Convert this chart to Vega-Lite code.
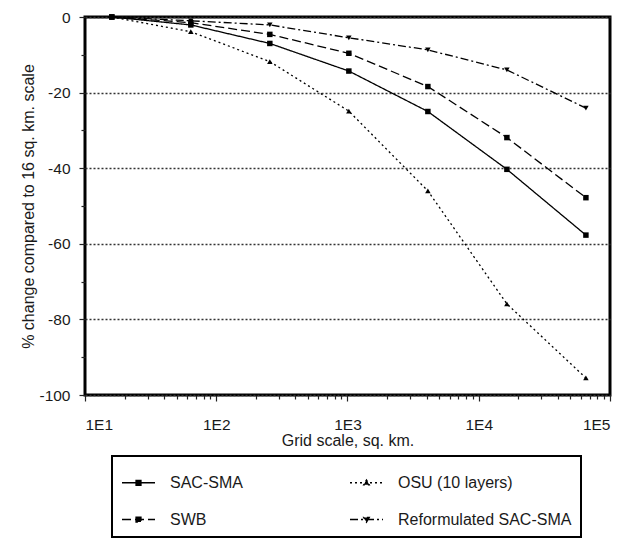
{
  "$schema": "https://vega.github.io/schema/vega-lite/v6.json",
  "width": 525,
  "height": 378,
  "autosize": {"type": "none"},
  "padding": {"left": 85, "top": 17, "right": 23, "bottom": 158},
  "background": "white",
  "config": {
    "view": {"stroke": "black", "strokeWidth": 3},
    "font": "Liberation Sans",
    "axis": {
      "domain": false,
      "grid": false,
      "labelFont": "Liberation Sans",
      "titleFont": "Liberation Sans",
      "labelFontSize": 15.5,
      "titleFontSize": 16,
      "titleFontWeight": "normal",
      "labelColor": "#1a1a1a",
      "titleColor": "#1a1a1a",
      "tickColor": "#222222",
      "tickWidth": 1.2
    },
    "legend": {"strokeWidth": 2}
  },
  "data": {
    "values": [
      {"model": "SAC-SMA", "area": 16, "change": 0},
      {"model": "SAC-SMA", "area": 64, "change": -2.1},
      {"model": "SAC-SMA", "area": 256, "change": -7},
      {"model": "SAC-SMA", "area": 1024, "change": -14.3},
      {"model": "SAC-SMA", "area": 4096, "change": -25},
      {"model": "SAC-SMA", "area": 16384, "change": -40.3},
      {"model": "SAC-SMA", "area": 65536, "change": -57.7},
      {"model": "SWB", "area": 16, "change": 0},
      {"model": "SWB", "area": 64, "change": -1.5},
      {"model": "SWB", "area": 256, "change": -4.6},
      {"model": "SWB", "area": 1024, "change": -9.6},
      {"model": "SWB", "area": 4096, "change": -18.4},
      {"model": "SWB", "area": 16384, "change": -31.9},
      {"model": "SWB", "area": 65536, "change": -47.8},
      {"model": "OSU (10 layers)", "area": 16, "change": 0},
      {"model": "OSU (10 layers)", "area": 64, "change": -3.9},
      {"model": "OSU (10 layers)", "area": 256, "change": -11.8},
      {"model": "OSU (10 layers)", "area": 1024, "change": -24.9},
      {"model": "OSU (10 layers)", "area": 4096, "change": -46},
      {"model": "OSU (10 layers)", "area": 16384, "change": -75.9},
      {"model": "OSU (10 layers)", "area": 65536, "change": -95.5},
      {"model": "Reformulated SAC-SMA", "area": 16, "change": 0},
      {"model": "Reformulated SAC-SMA", "area": 64, "change": -1},
      {"model": "Reformulated SAC-SMA", "area": 256, "change": -2.1},
      {"model": "Reformulated SAC-SMA", "area": 1024, "change": -5.5},
      {"model": "Reformulated SAC-SMA", "area": 4096, "change": -8.7},
      {"model": "Reformulated SAC-SMA", "area": 16384, "change": -14},
      {"model": "Reformulated SAC-SMA", "area": 65536, "change": -24.1}
    ]
  },
  "resolve": {"axis": {"x": "independent", "y": "independent"}},
  "layer": [
    {
      "mark": {"type": "line", "color": "black", "strokeWidth": 1.3},
      "encoding": {
        "x": {
          "field": "area",
          "type": "quantitative",
          "scale": {"type": "log", "domain": [10, 100000]},
          "axis": {
            "orient": "bottom",
            "values": [10, 100, 1000, 10000, 100000],
            "labelExpr": "'1E' + round(log(datum.value)/LN10)",
            "title": "Grid scale, sq. km.",
            "tickSize": 6,
            "labelPadding": 16,
            "titlePadding": 0
          }
        },
        "y": {
          "field": "change",
          "type": "quantitative",
          "scale": {"domain": [-100, 0]},
          "axis": {
            "orient": "left",
            "values": [0, -20, -40, -60, -80, -100],
            "labelExpr": "'' + datum.value",
            "title": "% change compared to 16 sq. km. scale",
            "grid": true,
            "gridDash": [2, 2],
            "gridColor": "#333333",
            "gridWidth": 1.5,
            "tickSize": 6,
            "labelPadding": 9,
            "titlePadding": 2
          }
        },
        "strokeDash": {
          "field": "model",
          "type": "nominal",
          "scale": {
            "domain": ["SAC-SMA", "SWB", "OSU (10 layers)", "Reformulated SAC-SMA"],
            "range": [[1, 0], [9, 4], [2, 3], [8, 3, 2, 3]]
          },
          "legend": {
            "title": null,
            "orient": "none",
            "legendX": 27,
            "legendY": 439,
            "columns": 2,
            "columnPadding": 104,
            "rowPadding": 11,
            "padding": 9,
            "symbolSize": 1089,
            "symbolStrokeWidth": 1.3,
            "symbolStrokeColor": "black",
            "labelFont": "Liberation Sans",
            "labelFontSize": 16,
            "labelOffset": 14,
            "labelColor": "#1a1a1a",
            "labelLimit": 300,
            "strokeColor": "black",
            "encode": {
              "symbols": {
                "update": {
                  "shape": {"signal": "(datum.value === 'SAC-SMA' || datum.value === 'SWB') ? 'M-1,0H1M-0.15,-0.15H0.15V0.15H-0.15Z' : (datum.value === 'OSU (10 layers)' ? 'M-1,0H1M0,-0.17L0.17,0.12H-0.17Z' : 'M-1,0H1M0,0.17L0.17,-0.12H-0.17Z')"},
                  "fill": {"value": "black"},
                  "stroke": {"value": "black"}
                }
              }
            }
          }
        }
      }
    },
    {
      "mark": {"type": "point", "filled": true, "color": "black", "size": 30, "opacity": 1},
      "encoding": {
        "x": {
          "field": "area",
          "type": "quantitative",
          "scale": {"type": "log", "domain": [10, 100000]},
          "axis": {
            "orient": "bottom",
            "values": [20, 30, 40, 50, 60, 70, 80, 90, 200, 300, 400, 500, 600, 700, 800, 900, 2000, 3000, 4000, 5000, 6000, 7000, 8000, 9000, 20000, 30000, 40000, 50000, 60000, 70000, 80000, 90000],
            "labels": false,
            "title": null,
            "tickSize": 4,
            "grid": false
          }
        },
        "y": {
          "field": "change",
          "type": "quantitative",
          "scale": {"domain": [-100, 0]},
          "axis": {
            "orient": "left",
            "values": [-10, -30, -50, -70, -90],
            "labels": false,
            "title": null,
            "tickSize": 4,
            "grid": false
          }
        },
        "shape": {
          "condition": [
            {"test": "datum.model === 'OSU (10 layers)'", "value": "triangle-up"},
            {"test": "datum.model === 'Reformulated SAC-SMA'", "value": "triangle-down"}
          ],
          "value": "square"
        }
      }
    }
  ]
}
